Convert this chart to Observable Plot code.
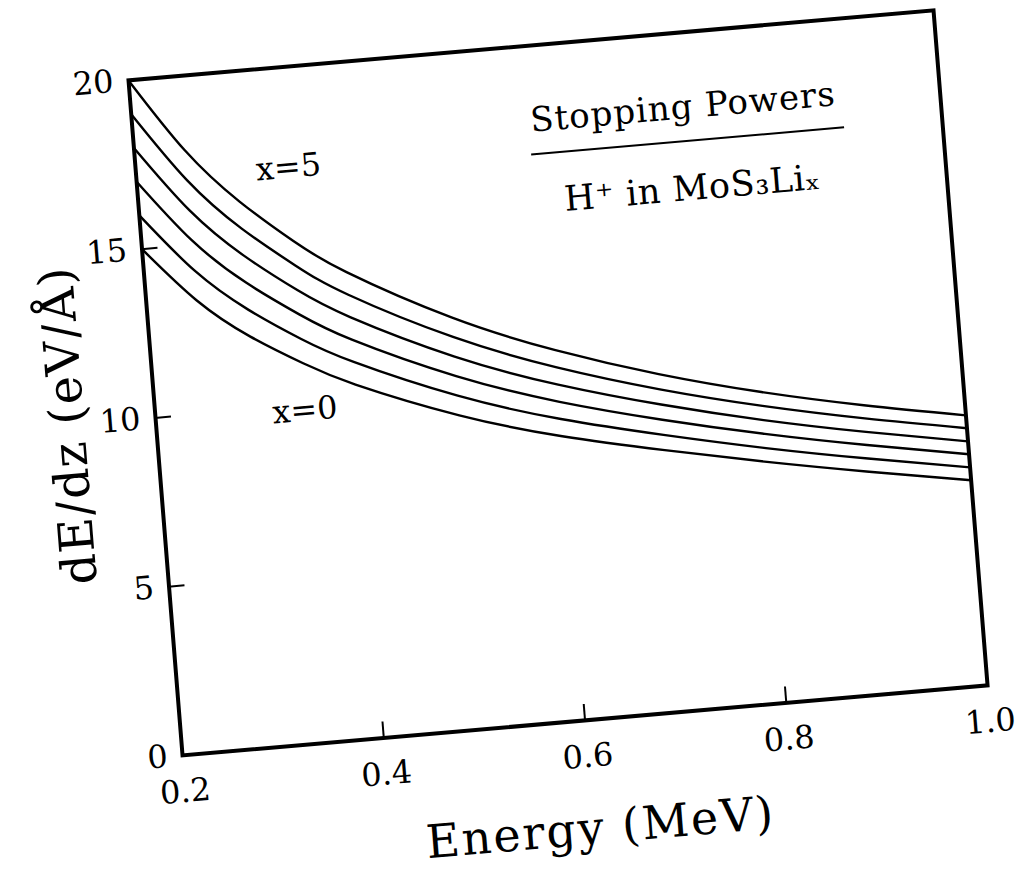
<!DOCTYPE html>
<html>
<head>
<meta charset="utf-8">
<script src="https://cdn.jsdelivr.net/npm/d3@7"></script>
<script src="https://cdn.jsdelivr.net/npm/@observablehq/plot@0.6"></script>
<style>
  html, body { margin: 0; padding: 0; background: #fff; overflow: hidden; }
  #chart { position: absolute; left: 0; top: 0; width: 1021px; height: 871px; }
  /* the printed figure sits slightly tilted on the page */
  #chart svg { transform-origin: 182px 755px; transform: matrix(0.9963, -0.0867, 0.0798, 0.9971, 0, 0); }
</style>
</head>
<body>
<div id="chart"></div>
<script>
// Proton energy (MeV)
const energy = [0.2, 0.25, 0.3, 0.35, 0.4, 0.5, 0.6, 0.7, 0.8, 0.9, 1.0];

// Stopping power dE/dz (eV/Å) of H+ in MoS3Li_x, one array per lithium content x
const lix0 = [15.0, 13.35, 12.15, 11.23, 10.47, 9.30, 8.42, 7.75, 7.14, 6.59, 6.08];
const lix1 = [16.0, 14.24, 12.95, 11.95, 11.14, 9.88, 8.93, 8.20, 7.55, 6.98, 6.46];
const lix2 = [17.0, 15.13, 13.75, 12.68, 11.80, 10.46, 9.44, 8.65, 7.97, 7.38, 6.85];
const lix3 = [18.0, 16.02, 14.55, 13.40, 12.47, 11.04, 9.95, 9.10, 8.38, 7.77, 7.23];
const lix4 = [19.0, 16.91, 15.35, 14.13, 13.13, 11.62, 10.46, 9.55, 8.80, 8.17, 7.62];
const lix5 = [20.0, 17.80, 16.15, 14.85, 13.80, 12.20, 10.97, 10.00, 9.21, 8.56, 8.00];

const lithium = [0, 1, 2, 3, 4, 5];
const series = [lix0, lix1, lix2, lix3, lix4, lix5];

// Axis ticks
const xTicks = [0.2, 0.4, 0.6, 0.8, 1.0];
const yTicks = [0, 5, 10, 15, 20];

// Text and its letter spacing
const xLabel = "Energy (MeV)";
const yLabel = "dE/dz (eV/Å)";
const title = "Stopping Powers";
const subtitle = "H⁺ in MoS₃Liₓ";
const spacing = new Map([[xLabel, "2px"], [yLabel, "1.2px"], [title, "1px"], [subtitle, "0.6px"]]);

// Long format table for the line mark
const rows = series.flatMap((vals, k) =>
  vals.map((v, i) => ({energy: energy[i], dEdz: v, x: lithium[k]}))
);

const chart = Plot.plot({
  width: 1021,
  height: 960,
  marginLeft: 182,
  marginRight: 31,
  marginTop: 78,
  marginBottom: 205,
  style: {fontFamily: "'DejaVu Serif', serif", fontSize: "32px", background: "transparent", color: "#000"},
  x: {domain: [0.2, 1.0]},
  y: {domain: [0, 20]},
  marks: [
    Plot.axisX(xTicks, {tickSize: -16, tickPadding: 40, strokeWidth: 2, tickFormat: d => d.toFixed(1), label: null}),
    Plot.axisY(yTicks, {tickSize: -16, tickPadding: 31, strokeWidth: 2, label: null}),
    Plot.line(rows, {x: "energy", y: "dEdz", z: "x", curve: "natural", stroke: "#000", strokeWidth: 2.4}),
    Plot.frame({stroke: "#000", strokeWidth: 4}),
    // axis titles
    Plot.text([xLabel], {frameAnchor: "bottom", dx: 7, dy: 109, textAnchor: "middle", lineAnchor: "middle", fontSize: 46}),
    Plot.text([yLabel], {frameAnchor: "left", dx: -87, rotate: -90, textAnchor: "middle", lineAnchor: "middle", fontSize: 48}),
    // legend block in the upper right
    Plot.text([title], {x: 0.745, y: 17.78, fontSize: 34}),
    Plot.ruleY([16.79], {x1: 0.592, x2: 0.903, stroke: "#000", strokeWidth: 2}),
    Plot.text([subtitle], {x: 0.748, y: 15.37, fontSize: 35}),
    // curve labels
    Plot.text(["x=5"], {x: 0.351, y: 17.03, fontSize: 32}),
    Plot.text(["x=0"], {x: 0.348, y: 9.84, fontSize: 32})
  ]
});

d3.select(chart).selectAll("text")
  .filter(function () { return spacing.has(this.textContent); })
  .style("letter-spacing", function () { return spacing.get(this.textContent); });

document.getElementById("chart").appendChild(chart);
</script>
</body>
</html>
